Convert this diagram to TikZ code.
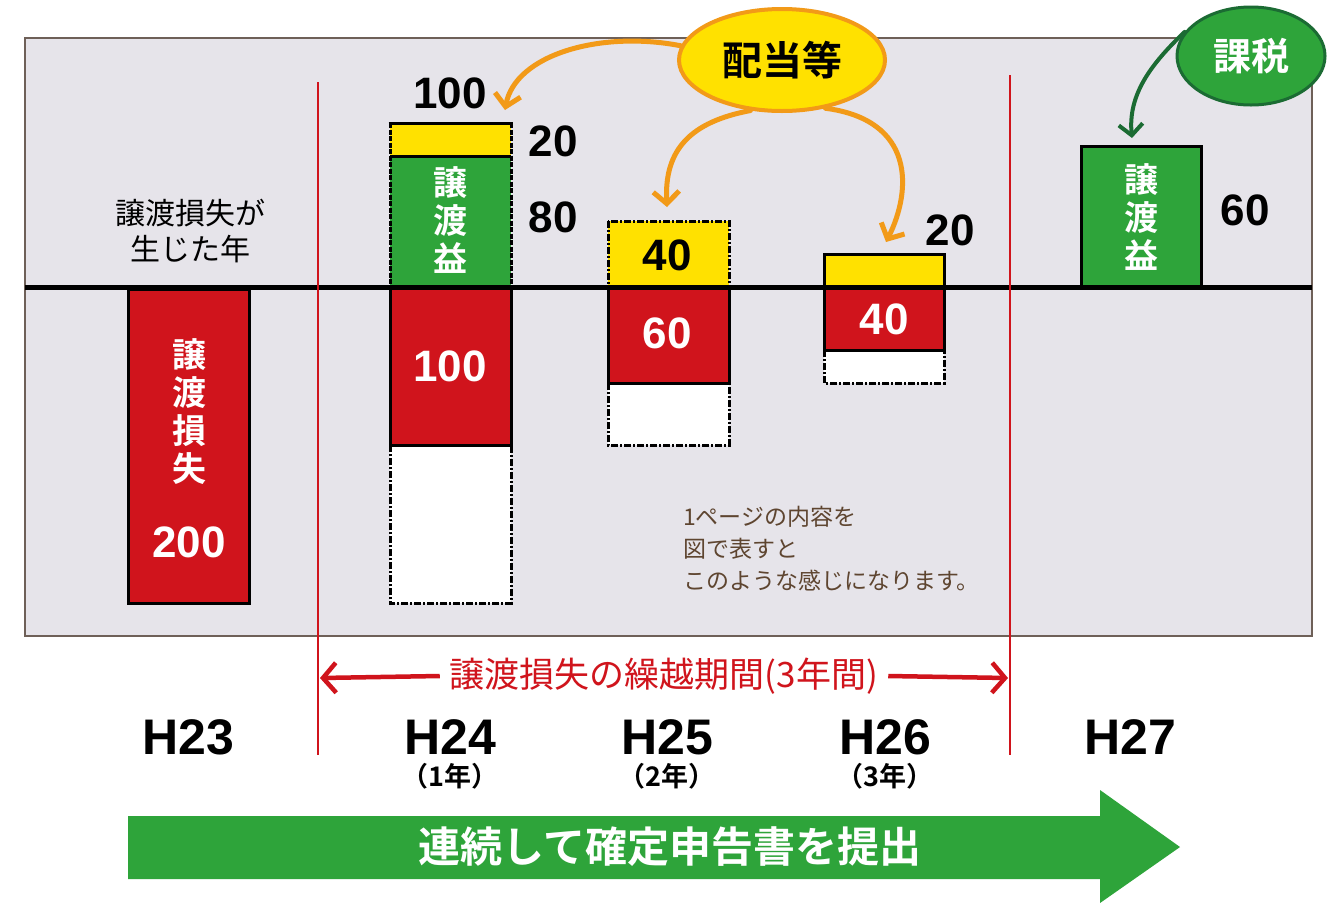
\documentclass[tikz,border=0pt]{standalone}
\usepackage{fontspec}
\setmainfont{Liberation Sans}
\newfontfamily\jp{Noto Sans CJK JP}[BoldFont={Noto Sans CJK JP Bold}]
\usetikzlibrary{arrows.meta,shapes.geometric}
\definecolor{panel}{RGB}{230,228,234}
\definecolor{framec}{RGB}{110,96,88}
\definecolor{redc}{RGB}{208,20,28}
\definecolor{greenc}{RGB}{46,164,58}
\definecolor{yellowc}{RGB}{255,225,0}
\definecolor{orangec}{RGB}{242,154,24}
\definecolor{dgreen}{RGB}{27,107,51}
\definecolor{brownt}{RGB}{94,69,48}
\begin{document}
\begin{tikzpicture}[x=1pt,y=-1pt,
  bar/.style={draw=black,line width=3pt},
  dd/.style={draw=black,line width=3pt,dash pattern=on 7pt off 2pt on 2pt off 2pt},
  dense/.style={draw=black,line width=3pt,dash pattern=on 5pt off 1.5pt},
  num/.style={font=\fontsize{44}{44}\selectfont\bfseries,inner sep=0pt},
  wnum/.style={num,text=white},
  vtxt/.style={font=\jp\bfseries\fontsize{34}{38}\selectfont,align=center,text=white,inner sep=0pt},
  year/.style={font=\fontsize{50}{50}\selectfont\bfseries,inner sep=0pt},
  sub/.style={font=\jp\bfseries\fontsize{27}{27}\selectfont,inner sep=0pt},
  oarrow/.style={draw=orangec,line width=5pt,line cap=round,-{Straight Barb[length=12pt,width=26pt]}},
  garrow/.style={draw=dgreen,line width=4pt,line cap=round,-{Straight Barb[length=11pt,width=24pt]}},
  rarrow/.style={draw=redc,line width=4.5pt,-{Straight Barb[length=13pt,width=30pt]}}
]
\useasboundingbox (0,0) rectangle (1335,903);
\fill[white] (0,0) rectangle (1335,903);
\draw[framec,line width=2.5pt,fill=panel] (25,38) rectangle (1312,636);

% H23
\draw[bar,fill=redc] (128,289) rectangle (249,603);
\node[vtxt] (l23) at (189,412) {譲\\渡\\損\\失};
\node[wnum] (n200) at (189,542) {200};

% H24
\draw[dd,fill=white] (390,445) rectangle (511,603);
\draw[bar,fill=redc] (390,287) rectangle (511,445);
\fill[greenc] (390,156) rectangle (511,287);
\fill[yellowc] (390,123) rectangle (511,156);
\draw[dense] (390,123) -- (390,287);
\draw[dense] (511,123) -- (511,287);
\draw[bar] (388.5,123) -- (512.5,123);
\draw[bar] (390,156) -- (511,156);
\node[vtxt] (g24) at (450,220) {譲\\渡\\益};
\node[wnum] (n100r) at (450,366) {100};
\node[num] (n100) at (450,93) {100};
\node[num] (n20a) at (553,141) {20};
\node[num] (n80) at (553,217) {80};
\coordinate (t24) at (505,110);

% H25
\draw[dd,fill=white] (608,383) rectangle (729,445);
\draw[bar,fill=redc] (608,287) rectangle (729,383);
\draw[dd,fill=yellowc] (608,221) rectangle (729,287);
\node[num] (n40a) at (667,255) {40};
\node[wnum] (n60r) at (667,333) {60};
\coordinate (t25) at (667,207);

% H26
\draw[dd,fill=white] (824,350) rectangle (944,383);
\draw[bar,fill=redc] (824,287) rectangle (944,350);
\draw[bar,fill=yellowc] (824,254) rectangle (944,287);
\node[wnum] (n40r) at (884,319) {40};
\node[num] (n20b) at (950,230) {20};
\coordinate (t26) at (886,242);

% H27
\draw[bar,fill=greenc] (1081,146) rectangle (1201,287);
\node[vtxt] (g27) at (1141,217) {譲\\渡\\益};
\node[num] (n60) at (1245,210) {60};
\coordinate (t27) at (1132,138);

% axis
\draw[black,line width=5pt] (25,287) -- (1312,287);

% label left
\node[font=\jp\fontsize{30}{36}\selectfont,align=center,inner sep=0pt] (occ) at (190,231) {譲渡損失が\\生じた年};

% red verticals
\draw[redc,line width=2.5pt] (318,82) -- (318,755);
\draw[redc,line width=2.5pt] (1010,75) -- (1010,755);
\coordinate (pl) at (320,678);
\coordinate (pr) at (1008,678);
\node[text=redc,font=\jp\fontsize{35}{35}\selectfont,inner sep=10pt] (period) at (664,676) {譲渡損失の繰越期間(3年間)};
\draw[rarrow] (period.west) -- (pl);
\draw[rarrow] (period.east) -- (pr);

% years
\node[year] (h23) at (188,737) {H23};
\node[year] (h24) at (450,737) {H24};
\node[year] (h25) at (667,737) {H25};
\node[year] (h26) at (885,737) {H26};
\node[year] (h27) at (1130,737) {H27};
\node[sub] (y1) at (450,776) {（1年）};
\node[sub] (y2) at (667,776) {（2年）};
\node[sub] (y3) at (885,776) {（3年）};

% big green arrow
\fill[greenc] (128,816) -- (1100,816) -- (1100,790) -- (1180,847) -- (1100,903) -- (1100,879) -- (128,879) -- cycle;
\node[text=white,font=\jp\bfseries\fontsize{42}{42}\selectfont,inner sep=0pt] (teishutsu) at (670,847) {連続して確定申告書を提出};

% note
\node[text=brownt,font=\jp\fontsize{23}{32}\selectfont,align=left,anchor=north west,inner sep=0pt] (note) at (683,506) {1ページの内容を\\図で表すと\\このような感じになります。};

% haito ellipse
\node[ellipse,draw=orangec,line width=4pt,fill=yellowc,minimum width=206pt,minimum height=102pt,font=\jp\bfseries\fontsize{40}{40}\selectfont,inner sep=0pt] (haito) at (782,60) {配当等};
\draw[oarrow] (haito.172) .. controls (600,30) and (515,55) .. (t24);
\draw[oarrow] (haito.238) .. controls (690,122) and (664,150) .. (t25);
\draw[oarrow] (haito.312) .. controls (915,120) and (912,190) .. (t26);

% kazei ellipse
\node[ellipse,draw=dgreen,line width=3pt,fill=greenc,minimum width=148pt,minimum height=98pt,text=white,font=\jp\bfseries\fontsize{38}{38}\selectfont,inner sep=0pt] (kazei) at (1251,56) {課税};
\draw[garrow] (kazei.160) .. controls (1150,65) and (1128,95) .. (t27);
\end{tikzpicture}
\end{document}
